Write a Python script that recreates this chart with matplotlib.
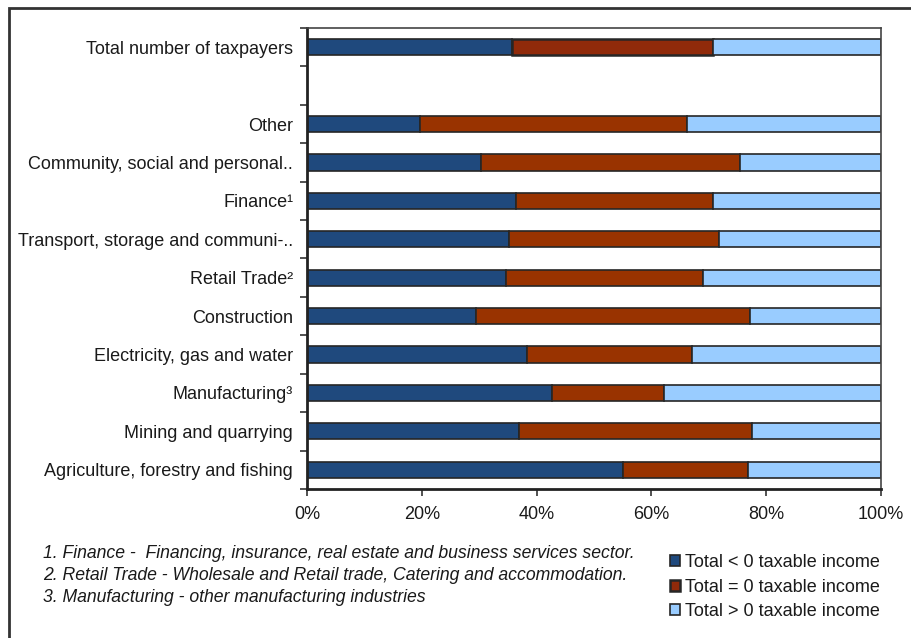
import matplotlib
matplotlib.use("Agg")
import matplotlib.pyplot as plt
from matplotlib.patches import Rectangle
import numpy as np

plt.rcParams['font.family'] = ['Liberation Sans', 'DejaVu Sans']

categories = ["Total number of taxpayers", "", "Other", "Community, social and personal..",
              "Finance\u00b9", "Transport, storage and communi-..", "Retail Trade\u00b2",
              "Construction", "Electricity, gas and water", "Manufacturing\u00b3",
              "Mining and quarrying", "Agriculture, forestry and fishing"]
neg_income = [35.7, 0, 19.7, 30.3, 36.4, 35.2, 34.6, 29.5, 38.3, 42.7, 36.9, 55.0]
zero_income = [35.1, 0, 46.5, 45.1, 34.4, 36.5, 34.4, 47.6, 28.8, 19.5, 40.7, 21.8]
pos_income = [29.2, 0, 33.8, 24.6, 29.2, 28.3, 31.0, 22.9, 32.9, 37.8, 22.4, 23.2]
series_labels = ["Total < 0 taxable income", "Total = 0 taxable income", "Total > 0 taxable income"]
colors = ["#1F497D", "#993300", "#99CCFF"]
footnotes = ["1. Finance -  Financing, insurance, real estate and business services sector.",
             "2. Retail Trade - Wholesale and Retail trade, Catering and accommodation.",
             "3. Manufacturing - other manufacturing industries"]
xticks = [0, 20, 40, 60, 80, 100]

W, H = 912, 638
fig = plt.figure(figsize=(W / 100, H / 100), dpi=100)
ax = fig.add_axes([307 / W, 1 - 489 / H, (881 - 307) / W, (489 - 28) / H])

n = len(categories)
y = np.arange(n)[::-1]
neg = np.array(neg_income); zer = np.array(zero_income); pos = np.array(pos_income)
mask = (neg + zer + pos) > 0
conts = []
for vals, left, col, lab in [(neg, 0, colors[0], series_labels[0]),
                             (zer, neg, colors[1], series_labels[1]),
                             (pos, neg + zer, colors[2], series_labels[2])]:
    left = np.zeros(n) + left
    c = ax.barh(y[mask], vals[mask], left=left[mask], height=0.42, color=col,
                edgecolor="#262626", linewidth=1.2, label=lab)
    conts.append(c)
# highlighted total row middle segment
conts[1].patches[0].set_facecolor("#902A0A")
conts[1].patches[0].set_linewidth(1.8)

ax.set_xlim(0, 100)
ax.set_ylim(-0.5, n - 0.5)
ax.set_yticks(y)
ax.set_yticklabels(categories, fontsize=13, color="#1a1a1a")
ax.set_yticks(np.arange(n + 1) - 0.5, minor=True)
ax.tick_params(axis='y', which='major', length=0, pad=10)
ax.tick_params(axis='y', which='minor', length=5, width=1.2, color="#333333")
ax.set_xticks(xticks)
ax.set_xticklabels([f"{v}%" for v in xticks], fontsize=13, color="#1a1a1a")
ax.tick_params(axis='x', length=5, width=1.2, color="#333333", pad=7)
for s in ['left', 'bottom']:
    ax.spines[s].set_linewidth(2.0)
    ax.spines[s].set_color("#222222")
for s in ['top', 'right']:
    ax.spines[s].set_linewidth(1.2)
    ax.spines[s].set_color("#444444")

# footnotes
for i, t in enumerate(footnotes):
    fig.text(43 / W, 1 - (554 + i * 22) / H, t, fontsize=12.7, style='italic',
             color="#1a1a1a", va='center', ha='left')

handles, labels = ax.get_legend_handles_labels()
leg = fig.legend(handles, labels, loc='upper left', bbox_to_anchor=(670 / W, 1 - 554 / H),
                 frameon=False, fontsize=13, handlelength=0.55, handleheight=0.55,
                 handletextpad=0.3, labelspacing=0.42, borderaxespad=0, borderpad=0)
for t in leg.get_texts():
    t.set_color("#1a1a1a")

# outer border (cropped at right/bottom)
fig.patches.append(Rectangle((9 / W, -0.05), 1.1, 1 - 8 / H + 0.05, transform=fig.transFigure,
                             fill=False, edgecolor="#333333", linewidth=2.0))

fig.savefig("out.png", dpi=100)
